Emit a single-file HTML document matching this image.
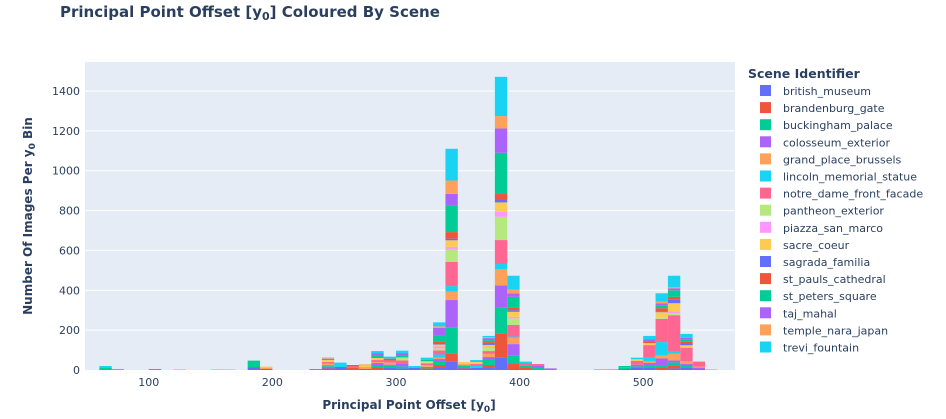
<!DOCTYPE html>
<html><head><meta charset="utf-8">
<style>
body{margin:0;background:#fff;}
svg{display:block;font-family:"DejaVu Sans",Verdana,sans-serif;}
</style></head>
<body>
<svg id="chart" width="946" height="419" xmlns="http://www.w3.org/2000/svg">
<text x="60" y="17" font-size="15" font-weight="bold" fill="#2a3f5f">Principal Point Offset [y<tspan font-size="11" dy="3">0</tspan><tspan dy="-3">] Coloured By Scene</tspan></text>
<rect x="85" y="62" width="650" height="308" fill="#e5ecf6"/>
<g id="grid"></g>
<g id="bars"></g>
<g id="yticks" font-size="11" fill="#2a3f5f" text-anchor="end"></g>
<g id="xticks" font-size="11" fill="#2a3f5f" text-anchor="middle"></g>
<text x="409" y="409" font-size="12" font-weight="bold" fill="#2a3f5f" text-anchor="middle">Principal Point Offset [y<tspan font-size="9" dy="3">0</tspan><tspan dy="-3">]</tspan></text>
<text transform="translate(32,216) rotate(-90)" font-size="12" font-weight="bold" fill="#2a3f5f" text-anchor="middle">Number Of Images Per y<tspan font-size="9" dy="3">0</tspan><tspan dy="-3"> Bin</tspan></text>
<text x="748" y="78" font-size="12.5" font-weight="bold" fill="#2a3f5f">Scene Identifier</text>
<g id="legend" font-size="11" fill="#2a3f5f"></g>
</svg>
<script>
const binStarts=[60,70,100,120,150,160,180,190,230,240,250,260,270,280,290,300,310,320,330,340,350,360,370,380,390,400,410,420,460,470,480,490,500,510,520,530,540,550];
const sceneNames=["british_museum","brandenburg_gate","buckingham_palace","colosseum_exterior","grand_place_brussels","lincoln_memorial_statue","notre_dame_front_facade","pantheon_exterior","piazza_san_marco","sacre_coeur","sagrada_familia","st_pauls_cathedral","st_peters_square","taj_mahal","temple_nara_japan","trevi_fountain"];
const british_museum=[0,0,0,0,0,0,10,5,0,8,15,0,5,0,10,8,10,0,10,42,8,10,10,62,5,0,0,0,0,0,5,10,10,0,8,10,0,0];
const brandenburg_gate=[0,0,0,0,0,0,5,0,0,5,0,10,0,10,0,0,0,8,15,42,5,0,15,122,25,10,0,0,0,0,0,0,0,10,15,0,5,0];
const buckingham_palace=[10,0,5,0,0,0,20,0,5,6,0,0,0,15,12,10,0,8,20,128,10,0,30,129,42,10,10,0,0,0,5,8,10,15,15,10,0,0];
const colosseum_exterior=[0,0,0,0,0,0,0,0,0,5,0,0,0,10,5,15,0,0,10,139,0,0,10,112,58,0,10,8,0,0,0,8,15,33,10,10,7,0];
const grand_place_brussels=[0,0,0,0,0,0,0,7,0,6,0,0,10,5,10,0,0,8,8,42,7,0,15,80,33,0,0,0,0,5,0,0,10,15,33,15,5,0];
const lincoln_memorial_statue=[10,0,0,2,0,2,0,0,0,4,10,0,0,0,0,0,10,0,15,28,0,10,5,27,5,0,0,0,3,0,0,0,20,67,10,0,0,0];
const notre_dame_front_facade=[0,0,0,0,2,0,0,0,0,6,0,8,0,10,10,15,0,10,20,122,0,10,10,120,58,15,10,0,0,0,5,20,60,117,184,67,25,2];
const pantheon_exterior=[0,0,0,0,0,0,0,0,0,5,0,0,0,5,0,15,0,5,10,62,5,0,15,117,33,0,0,0,0,0,0,0,0,8,10,0,0,0];
const piazza_san_marco=[0,0,0,0,0,0,0,0,0,0,0,0,0,0,0,0,0,0,10,13,0,0,5,25,8,0,0,0,0,0,0,0,0,0,8,0,0,0];
const sacre_coeur=[0,0,0,0,0,0,0,5,0,5,0,0,8,5,0,0,0,5,10,33,5,10,10,47,25,0,0,0,0,0,0,8,10,25,42,12,0,0];
const sagrada_familia=[0,0,0,0,0,0,0,0,0,0,0,0,0,0,0,0,0,0,5,8,0,0,5,12,8,0,0,0,0,0,0,0,0,5,17,9,0,0];
const st_pauls_cathedral=[0,0,0,0,0,0,0,0,0,0,0,7,0,0,10,0,0,0,8,33,0,0,10,30,13,0,0,0,0,0,0,0,10,15,15,8,0,0];
const st_peters_square=[0,0,0,0,0,0,12,0,0,5,0,0,0,15,0,10,0,8,30,134,0,0,10,207,54,0,0,0,0,0,5,0,0,15,33,10,0,0];
const taj_mahal=[0,0,0,0,0,0,0,0,0,0,0,0,0,10,0,12,0,0,40,58,0,0,10,122,17,0,0,0,0,0,0,0,10,10,10,10,0,0];
const temple_nara_japan=[0,0,0,0,0,0,0,0,0,4,0,0,5,0,0,0,0,0,8,67,0,0,5,62,20,0,0,0,0,0,0,0,0,8,5,0,0,0];
const trevi_fountain=[0,5,0,0,0,0,0,0,0,3,12,0,0,10,10,12,0,10,20,159,0,10,6,197,69,7,0,0,0,0,0,8,16,42,58,20,0,0];
const yTicks=[0,200,400,600,800,1000,1200,1400];
const xTicks=[100,200,300,400,500];
const series=[british_museum,brandenburg_gate,buckingham_palace,colosseum_exterior,grand_place_brussels,lincoln_memorial_statue,notre_dame_front_facade,pantheon_exterior,piazza_san_marco,sacre_coeur,sagrada_familia,st_pauls_cathedral,st_peters_square,taj_mahal,temple_nara_japan,trevi_fountain];
const colors=["#636efa","#EF553B","#00cc96","#ab63fa","#FFA15A","#19d3f3","#FF6692","#B6E880","#FF97FF","#FECB52","#636efa","#EF553B","#00cc96","#ab63fa","#FFA15A","#19d3f3"];
const binWidth=10;
const NS="http://www.w3.org/2000/svg";
function xs(v){return 396+(v-300)*1.236;}
function ys(v){return 370-v*0.19929;}
const grid=document.getElementById('grid');
const yt=document.getElementById('yticks');
yTicks.forEach(t=>{
  if(t>0){const l=document.createElementNS(NS,'line');
  l.setAttribute('x1',85);l.setAttribute('x2',735);l.setAttribute('y1',ys(t));l.setAttribute('y2',ys(t));
  l.setAttribute('stroke','#fff');l.setAttribute('stroke-width',1);
  
  
  grid.appendChild(l);}
  const tx=document.createElementNS(NS,'text');
  tx.setAttribute('x',80);tx.setAttribute('y',ys(t)+4);tx.textContent=t;
  
  
  yt.appendChild(tx);
});
const xt=document.getElementById('xticks');
xTicks.forEach(t=>{
  const tx=document.createElementNS(NS,'text');
  tx.setAttribute('x',xs(t));tx.setAttribute('y',386);tx.textContent=t;
  
  
  xt.appendChild(tx);
});
const bars=document.getElementById('bars');
binStarts.forEach((b,i)=>{
  let acc=0;
  series.forEach((s,k)=>{
    const v=s[i];if(!v)return;
    const r=document.createElementNS(NS,'rect');
    const x0=xs(b),x1=xs(b+binWidth);
    r.setAttribute('x',x0);r.setAttribute('width',x1-x0);
    r.setAttribute('y',ys(acc+v));r.setAttribute('height',ys(acc)-ys(acc+v));
    r.setAttribute('fill',colors[k]);
    
    
    bars.appendChild(r);
    acc+=v;
  });
});
const lg=document.getElementById('legend');
sceneNames.forEach((n,k)=>{
  const g=document.createElementNS(NS,'g');
  
  
  const y=91+k*17.1;
  const r=document.createElementNS(NS,'rect');
  r.setAttribute('x',760);r.setAttribute('y',y-6);r.setAttribute('width',11);r.setAttribute('height',11);
  r.setAttribute('fill',colors[k]);
  const t=document.createElementNS(NS,'text');
  t.setAttribute('x',783);t.setAttribute('y',y+4);t.textContent=n;
  g.appendChild(r);g.appendChild(t);lg.appendChild(g);
});
</script>
</body></html>
